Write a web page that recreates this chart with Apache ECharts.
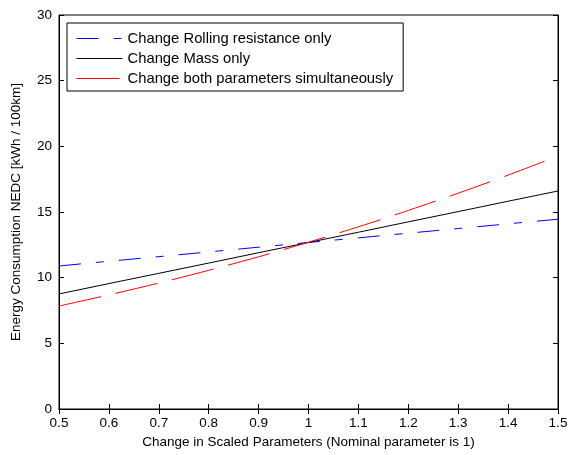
<!DOCTYPE html>
<html><head><meta charset="utf-8">
<script src="https://cdn.jsdelivr.net/npm/echarts@6/dist/echarts.min.js"></script>
<style>html,body{margin:0;padding:0;background:#fff}#c{width:576px;height:455px}</style>
</head><body><div id="c"></div>
<script>
const xValues = [0.5,0.6,0.7,0.8,0.9,1.0,1.1,1.2,1.3,1.4,1.5];
const rollingOnly = [10.89,11.25,11.60,11.96,12.32,12.68,13.03,13.39,13.74,14.10,14.45];
const massOnly = [8.76,9.55,10.33,11.11,11.90,12.68,13.46,14.25,15.03,15.82,16.60];
const bothParams = [7.84,8.69,9.59,10.56,11.59,12.70,13.87,15.12,16.43,17.81,19.26];
const seriesNames = ['Change Rolling resistance only','Change Mass only','Change both parameters simultaneously'];
const xTitle = 'Change in Scaled Parameters (Nominal parameter is 1)';
const yTitle = 'Energy Consumption NEDC [kWh / 100km]';

const pair = arr => xValues.map((x,i)=>[x,arr[i]]);
const font = 'Arial, "Liberation Sans", sans-serif';
const fs = 13.5;
const chart = echarts.init(document.getElementById('c'));
const tick = {show:true, inside:true, length:5, lineStyle:{color:'#000'}};
chart.setOption({
  animation:false,
  backgroundColor:'#fff',
  grid:{left:59,right:18,top:15,bottom:46,show:true,borderColor:'#000',borderWidth:1,backgroundColor:'#fff'},
  legend:{
    show:true,
    orient:'vertical', left:67, top:23, padding:[8,10,5,9],
    backgroundColor:'#fff', borderColor:'#000', borderWidth:1, borderRadius:0,
    itemWidth:46, itemHeight:14, itemGap:5,
    itemStyle:{opacity:0},
    lineStyle:{width:1},
    textStyle:{fontFamily:font,fontSize:14.8,color:'#000'},
    data:seriesNames
  },
  xAxis:[{
    type:'value', min:0.5, max:1.5, interval:0.1,
    axisLine:{show:true,lineStyle:{color:'#000'}}, axisTick:tick, splitLine:{show:false},
    axisLabel:{fontFamily:font,fontSize:fs,color:'#000',margin:7,formatter:v=>String(+v.toFixed(1))},
    name:xTitle, nameLocation:'middle', nameGap:24,
    nameTextStyle:{fontFamily:font,fontSize:fs,color:'#000'}
  },{
    type:'value', position:'top', min:0.5, max:1.5, interval:0.1,
    axisLine:{show:true,lineStyle:{color:'#000'}}, axisTick:tick, axisLabel:{show:false}, splitLine:{show:false}
  }],
  yAxis:[{
    type:'value', min:0, max:30, interval:5,
    axisLine:{show:true,lineStyle:{color:'#000'}}, axisTick:tick, splitLine:{show:false},
    axisLabel:{fontFamily:font,fontSize:fs,color:'#000',margin:7},
    name:yTitle, nameLocation:'middle', nameGap:36,
    nameTextStyle:{fontFamily:font,fontSize:fs,color:'#000'}
  },{
    type:'value', position:'right', min:0, max:30, interval:5,
    axisLine:{show:true,lineStyle:{color:'#000'}}, axisTick:tick, axisLabel:{show:false}, splitLine:{show:false}
  }],
  series:[
    {name:seriesNames[0], type:'line', data:pair(rollingOnly), symbol:'none', color:'#0000ff',
     lineStyle:{color:'#0000ff',width:1,type:[22,15,8,15]}},
    {name:seriesNames[1], type:'line', data:pair(massOnly), symbol:'none', color:'#000',
     lineStyle:{color:'#000',width:1,type:'solid'}},
    {name:seriesNames[2], type:'line', data:pair(bothParams), symbol:'none', color:'#ff0000', smooth:0.3,
     lineStyle:{color:'#ff0000',width:1,type:[43,15]}}
  ]
});
</script></body></html>
